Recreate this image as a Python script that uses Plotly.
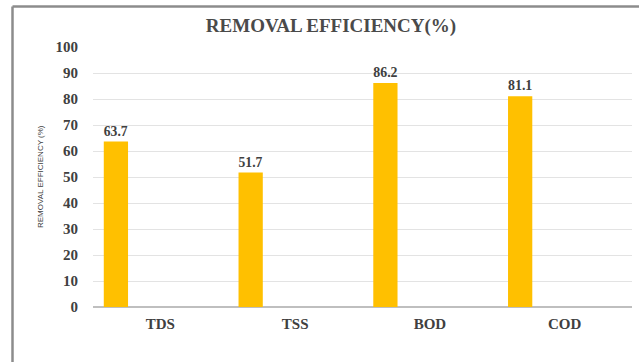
import plotly.graph_objects as go

categories = ["TDS", "TSS", "BOD", "COD"]
values = [63.7, 51.7, 86.2, 81.1]
y_ticks = list(range(0, 101, 10))

W, H = 639, 362
L, R, T, B = 93, 7, 47, 55

SERIF = "Liberation Serif"
TXT = "#404040"

fig = go.Figure()
fig.add_trace(go.Bar(
    x=categories, y=values,
    offset=-0.42, width=0.18,
    marker=dict(color="#FFC000", line=dict(width=0)),
    text=[f"{v:.1f}" for v in values],
    textposition="outside",
    textfont=dict(family=SERIF, size=15, color=TXT, weight="bold"),
    cliponaxis=False,
))

pw = W - L - R
ph = H - T - B
fig.update_layout(
    width=W, height=H,
    margin=dict(l=L, r=R, t=T, b=B),
    paper_bgcolor="white", plot_bgcolor="white",
    showlegend=False,
    title=dict(text="REMOVAL EFFICIENCY(%)", x=331 / W, xanchor="center",
               y=1 - 25 / H, yanchor="middle", xref="container", yref="container",
               font=dict(family=SERIF, size=19, color="#4a4a4a", weight="bold")),
    xaxis=dict(showgrid=False, showline=False, ticks="", ticklabelstandoff=6,
               tickfont=dict(family=SERIF, size=15, color=TXT, weight="bold")),
    yaxis=dict(range=[0, 100], tickvals=y_ticks, showgrid=True, gridcolor="#e3e3e3", gridwidth=1,
               zeroline=True, zerolinecolor="#bfbfbf", zerolinewidth=1.5, showline=False, ticks="",
               ticklabelstandoff=14,
               tickfont=dict(family=SERIF, size=15, color=TXT, weight="bold")),
    annotations=[dict(text="REMOVAL EFFICIENCY (%)", textangle=-90, xref="paper", yref="paper",
                      x=(40 - L) / pw, y=0.5, showarrow=False, xanchor="center", yanchor="middle",
                      font=dict(family="Liberation Sans Narrow, Liberation Sans", size=8, color=TXT))],
    shapes=[
        dict(type="line", xref="paper", yref="paper", x0=(12.5 - L) / pw, x1=(12.5 - L) / pw,
             y0=(H - B - 6.5) / ph, y1=(H - B - H - 5) / ph, line=dict(color="#8c8c8c", width=2.5)),
        dict(type="line", xref="paper", yref="paper", x0=(12.5 - L) / pw, x1=(W + 5 - L) / pw,
             y0=(H - B - 6.5) / ph, y1=(H - B - 6.5) / ph, line=dict(color="#8c8c8c", width=2.5)),
    ],
)

fig.write_html("out.html", config={"displayModeBar": False},
               post_script="document.body.style.margin='0';document.body.style.overflow='hidden';")
